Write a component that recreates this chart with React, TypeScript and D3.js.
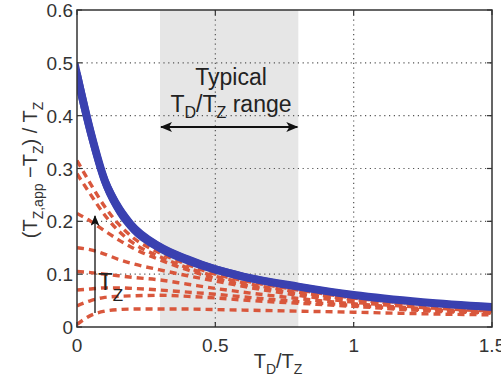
import React from "react";
import * as d3 from "d3";

const xs = [0, 0.05, 0.1, 0.15, 0.2, 0.3, 0.4, 0.5, 0.6, 0.8, 1.0, 1.25, 1.5];
const blueUpper = [0.5, 0.385, 0.29, 0.235, 0.198, 0.157, 0.133, 0.114, 0.1, 0.08, 0.064, 0.05, 0.041];
const blueLower = [0.455, 0.35, 0.265, 0.214, 0.181, 0.144, 0.121, 0.104, 0.091, 0.073, 0.057, 0.044, 0.035];
const redSeries = [
  [0.315, 0.27, 0.228, 0.195, 0.17, 0.14, 0.118, 0.1, 0.088, 0.07, 0.055, 0.043, 0.035],
  [0.29, 0.25, 0.212, 0.182, 0.16, 0.133, 0.112, 0.096, 0.084, 0.066, 0.052, 0.041, 0.033],
  [0.215, 0.2, 0.182, 0.165, 0.15, 0.127, 0.108, 0.092, 0.08, 0.063, 0.05, 0.039, 0.032],
  [0.15, 0.146, 0.138, 0.128, 0.12, 0.108, 0.097, 0.087, 0.077, 0.06, 0.047, 0.037, 0.03],
  [0.105, 0.103, 0.1, 0.097, 0.094, 0.089, 0.081, 0.073, 0.066, 0.054, 0.044, 0.035, 0.029],
  [0.07, 0.072, 0.074, 0.074, 0.073, 0.07, 0.066, 0.062, 0.057, 0.048, 0.041, 0.033, 0.027],
  [0.04, 0.05, 0.056, 0.058, 0.059, 0.06, 0.058, 0.055, 0.051, 0.045, 0.039, 0.031, 0.026],
  [0.005, 0.022, 0.03, 0.033, 0.034, 0.034, 0.034, 0.033, 0.032, 0.03, 0.028, 0.025, 0.023],
];
const xTicks = [0, 0.5, 1, 1.5];
const xTickLabels = ["0", "0.5", "1", "1.5"];
const yTicks = [0, 0.1, 0.2, 0.3, 0.4, 0.5, 0.6];
const yTickLabels = ["0", "0.1", "0.2", "0.3", "0.4", "0.5", "0.6"];
const typicalRange = [0.3, 0.8];

const W = 501;
const H = 383;
const L = 77, R = 492, T = 10, B = 327;
const FONT = "'Liberation Sans', Arial, Helvetica, sans-serif";

export default function App() {
  const x = d3.scaleLinear().domain([0, 1.5]).range([L, R]);
  const y = d3.scaleLinear().domain([0, 0.6]).range([B, T]);
  const line = d3
    .line<number>()
    .x((_, i) => x(xs[i]))
    .y((d) => y(d))
    .curve(d3.curveMonotoneX);
  const blueMid = blueUpper.map((v, i) => (v + blueLower[i]) / 2);
  const red = "#d9573c";
  const blue = "#3a41b0";
  const ax = 95;
  return (
    <svg
      width={W}
      height={H}
      style={{ position: "absolute", left: 0, top: 0, background: "#fff" }}
      fontFamily={FONT}
    >
      <defs>
        <marker id="ah" viewBox="0 0 12 10" refX="11" refY="5" markerWidth="13" markerHeight="10" markerUnits="userSpaceOnUse" orient="auto-start-reverse">
          <path d="M0,0 L12,5 L0,10 L3,5 z" fill="#111" />
        </marker>
        <marker id="ah2" viewBox="0 0 12 10" refX="11" refY="5" markerWidth="11" markerHeight="9" markerUnits="userSpaceOnUse" orient="auto">
          <path d="M0,0 L12,5 L0,10 L3,5 z" fill="#111" />
        </marker>
        <clipPath id="plot">
          <rect x={L} y={T} width={R - L} height={B - T} />
        </clipPath>
      </defs>
      {/* shaded typical range */}
      <rect
        x={x(typicalRange[0])}
        y={T}
        width={x(typicalRange[1]) - x(typicalRange[0])}
        height={B - T}
        fill="#e6e6e6"
      />
      {/* grid */}
      {xTicks.slice(1, -1).map((t) => (
        <line key={"gx" + t} x1={x(t)} x2={x(t)} y1={T} y2={B} stroke="#555" strokeWidth={1.2} strokeDasharray="1.2,3.6" />
      ))}
      {yTicks.slice(1, -1).map((t) => (
        <line key={"gy" + t} x1={L} x2={R} y1={y(t)} y2={y(t)} stroke="#555" strokeWidth={1.2} strokeDasharray="1.2,3.6" />
      ))}
      <g clipPath="url(#plot)">
        {redSeries.map((s, i) => (
          <path key={"r" + i} d={line(s) || ""} fill="none" stroke={red} strokeWidth={3.4} strokeDasharray="7,5" />
        ))}
        <path d={line(blueMid) || ""} fill="none" stroke={blue} strokeWidth={8} strokeLinecap="round" />
        <path d={line(blueUpper) || ""} fill="none" stroke={blue} strokeWidth={3} />
        <path d={line(blueLower) || ""} fill="none" stroke={blue} strokeWidth={3} />
      </g>
      {/* frame */}
      <rect x={L} y={T} width={R - L} height={B - T} fill="none" stroke="#333" strokeWidth={1.5} />
      {/* ticks */}
      {yTicks.map((t) => (
        <g key={"ty" + t}>
          <line x1={L} x2={L + 5} y1={y(t)} y2={y(t)} stroke="#333" strokeWidth={1.2} />
          <line x1={R} x2={R - 5} y1={y(t)} y2={y(t)} stroke="#333" strokeWidth={1.2} />
        </g>
      ))}
      {xTicks.map((t) => (
        <g key={"tx" + t}>
          <line x1={x(t)} x2={x(t)} y1={B} y2={B - 5} stroke="#333" strokeWidth={1.2} />
          <line x1={x(t)} x2={x(t)} y1={T} y2={T + 5} stroke="#333" strokeWidth={1.2} />
        </g>
      ))}
      {/* tick labels */}
      {yTicks.map((t, i) => (
        <text key={"ly" + t} x={L - 4} y={y(t) + 7} textAnchor="end" fontSize={19} fill="#333">
          {yTickLabels[i]}
        </text>
      ))}
      {xTicks.map((t, i) => (
        <text key={"lx" + t} x={x(t)} y={352} textAnchor="middle" fontSize={19} fill="#333">
          {xTickLabels[i]}
        </text>
      ))}
      {/* axis titles */}
      <text x={278} y={368} textAnchor="middle" fontSize={20} fill="#333">
        T<tspan fontSize={14} dy={6}>D</tspan>
        <tspan dy={-6}>/T</tspan>
        <tspan fontSize={14} dy={6}>Z</tspan>
      </text>
      <text transform="translate(37,170) rotate(-90)" textAnchor="middle" fontSize={20} fill="#333">
        (T<tspan fontSize={14} dy={6}>Z,app</tspan>
        <tspan dy={-6}> −T</tspan>
        <tspan fontSize={14} dy={6}>Z</tspan>
        <tspan dy={-6}>) / T</tspan>
        <tspan fontSize={14} dy={6}>Z</tspan>
      </text>
      {/* typical range annotation */}
      <text x={231} y={85} textAnchor="middle" fontSize={23} fill="#222">
        Typical
      </text>
      <text x={231} y={112} textAnchor="middle" fontSize={23} fill="#222">
        T<tspan fontSize={16} dy={6}>D</tspan>
        <tspan dy={-6}>/T</tspan>
        <tspan fontSize={16} dy={6}>Z</tspan>
        <tspan dy={-6}> range</tspan>
      </text>
      <line
        x1={x(typicalRange[0]) + 1}
        x2={x(typicalRange[1]) - 1}
        y1={127}
        y2={127}
        stroke="#111"
        strokeWidth={1.8}
        markerStart="url(#ah)"
        markerEnd="url(#ah)"
      />
      {/* T_Z arrow */}
      <line x1={ax} x2={ax} y1={313} y2={216} stroke="#111" strokeWidth={1.3} markerEnd="url(#ah2)" />
      <text x={98} y={290} fontSize={24} fill="#222">
        T<tspan fontSize={17} dy={11}>Z</tspan>
      </text>
    </svg>
  );
}
